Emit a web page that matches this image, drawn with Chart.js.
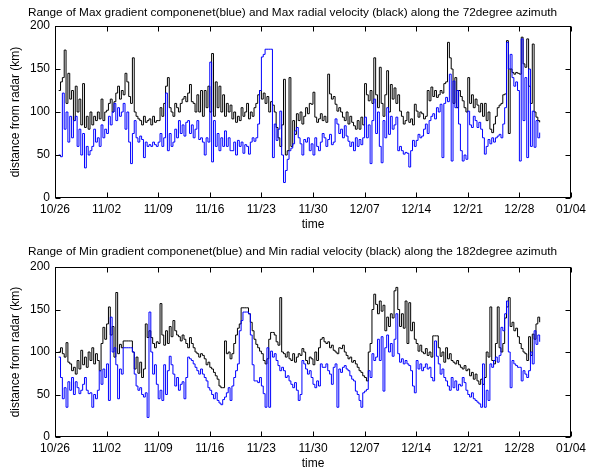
<!DOCTYPE html>
<html>
<head>
<meta charset="utf-8">
<script src="https://cdn.jsdelivr.net/npm/chart.js@4"></script>
<style>
  html, body { margin: 0; padding: 0; background: #fff; }
  #wrap { position: relative; width: 590px; height: 471px; }
  #top, #bot { position: absolute; left: 0; }
  #top { top: 0; }
  #bot { top: 235px; }
</style>
</head>
<body>
<div id="wrap">
  <canvas id="top" width="590" height="235"></canvas>
  <canvas id="bot" width="590" height="236"></canvas>
</div>
<script>
// ---- data (days since 10/26, sampled every 6 hours starting at day 0.5) ----
const startDay = 0.5;
const stepDay = 0.25;
const tickLabels = ['10/26','11/02','11/09','11/16','11/23','11/30','12/07','12/14','12/21','12/28','01/04'];

const maxRadialVel72 = [
  125,135,
  140,172,110,145, 115,125,90,130, 100,115,85,133, 82,95,80,100, 85,95,90,100,
  92,115,90,100, 102,110,115,100, 112,122,130,115, 125,120,145,135, 118,110,163,100,
  95,92,90,85, 95,88,90,92, 85,95,88,90, 90,105,95,110, 130,140,105,100,
  95,110,105,100, 110,115,118,112, 122,132,112,110, 100,120,100,125, 95,125,105,130,
  100,168,95,135, 105,130,100,120, 95,110,100,108, 92,100,88,95, 90,105,95,100,
  110,92,100,95, 105,110,120,125, 115,122,110,118, 100,112,108,100, 82,70,60,85,
  138,50,55,140, 60,90,74,98, 90,100,86,95, 105,98,110,109, 123,94,88,92,
  98,90,95,88, 144,121,115,118, 109,101,105,100, 94,90,100,86, 95,88,84,80,
  90,80,94,85, 133,120,113,125, 110,163,120,105, 152,110,95,120, 148,100,132,115,
  128,110,120,101, 95,86,90,100, 88,92,85,109, 101,94,100,98, 92,95,125,113,
  129,118,125,117, 120,125,122,133, 135,181,163,150, 110,140,105,125, 118,113,105,100,
  140,110,120,105, 115,108,100,110, 95,110,90,100, 80,76,86,95, 105,108,110,120,
  121,183,75,150, 146,144,146,145, 144,187,156,152, 185,130,110,179, 100,94,90,88
];
const maxGradient72 = [
  50,48,
  122,80,100,65, 95,70,90,95, 60,80,50,75, 35,60,50,55, 60,80,65,70,
  60,85,70,80, 75,95,85,100, 110,90,105,95, 100,110,80,100, 65,40,75,90,
  70,65,72,68, 47,65,60,62, 60,65,62,60, 65,75,60,70, 122,55,75,60,
  65,80,70,90, 75,85,72,88, 90,75,85,70, 80,90,68,70, 65,50,70,65,
  158,42,90,60, 75,55,70,60, 78,60,70,55, 55,65,50,67, 60,65,52,62,
  60,51,65,70, 66,70,86,125, 164,167,173,173, 173,173,47,86, 67,80,101,50,
  18,32,45,55, 58,63,78,82, 70,63,50,68, 65,70,55,63, 50,70,60,55,
  65,75,70,60, 68,74,62,65, 92,86,75,80, 70,84,72,66, 60,65,55,70,
  60,68,62,70, 94,70,85,40, 90,115,75,100, 60,41,90,70, 105,74,95,80,
  85,94,55,60, 55,51,53,52, 36,55,67,60, 67,74,70,72, 80,86,75,90,
  95,98,92,105, 100,109,47,110, 117,112,144,43, 136,105,125,86, 55,43,50,45,
  101,85,82,95, 90,82,88,80, 70,51,60,68, 63,70,65,70, 72,74,70,86,
  105,181,150,167, 140,130,135,125, 43,185,90,140, 47,150,60,101, 59,90,70,76
];
const minRadialVel182 = [
  100,105,
  98,94,111,88, 86,78,82,74, 90,80,102,85, 94,82,100,90, 105,86,98,90,
  78,110,129,115, 133,153,120,130, 94,170,98,109, 105,113,113,113, 113,113,100,80,
  94,75,88,70, 80,133,117,125, 117,110,105,112, 110,157,120,108, 125,110,130,118,
  137,125,120,118, 113,120,115,110, 105,117,110,105, 100,98,94,98, 96,92,85,88,
  82,80,76,72, 68,60,58,58, 113,98,100,92, 98,110,120,128, 133,152,152,152,
  152,145,135,125, 115,109,105,101, 98,90,86,92, 115,123,123,120, 112,108,164,100,
  98,94,100,92, 90,98,88,94, 98,96,104,100, 90,86,94,92, 85,100,90,105,
  115,117,112,110, 112,105,108,102, 100,98,105,104, 108,100,96,92, 94,88,90,86,
  82,78,76,72, 70,66,100,110, 150,168,156,145, 160,148,155,125, 141,130,145,140,
  172,176,150,130, 145,128,160,110, 158,125,135,115, 110,101,108,100, 98,104,96,100,
  94,119,119,119, 105,95,100,88, 105,92,98,90, 88,86,90,85, 82,80,84,78,
  80,72,76,68, 74,66,62,68, 62,70,100,94, 153,90,86,110, 153,105,100,110,
  140,153,164,130, 135,125,128,118, 110,104,100,98, 90,118,96,121, 115,133,141,135
];
const minGradient182 = [
  94,70,
  45,58,35,65, 55,70,50,65, 58,51,55,62, 70,55,51,52, 35,50,45,55,
  78,62,80,70, 86,43,141,100, 105,85,45,80, 74,105,105,105, 105,105,100,74,
  60,55,58,50, 47,52,23,147, 100,74,85,62, 45,55,43,85, 50,78,95,85,
  74,60,70,55, 62,65,45,70, 94,92,90,86, 82,78,74,80, 74,70,66,58,
  55,50,45,52, 43,40,38,44, 47,52,58,43, 60,70,78,86, 125,137,147,147,
  147,145,120,85, 66,66,64,70, 60,51,35,105, 35,101,94,98, 90,84,78,82,
  78,70,72,66, 62,58,64,55, 43,50,90,86, 80,74,78,70, 62,58,66,60,
  86,82,82,86, 78,74,62,82, 86,35,80,76, 82,84,80,78, 72,68,66,54,
  50,43,35,52, 54,56,78,70, 98,90,94,115, 90,118,54,105, 120,100,110,95,
  115,145,98,88, 92,86,90,86, 84,78,60,52, 90,80,86,78, 82,86,80,82,
  70,66,113,95, 86,74,80,70, 66,60,55,70, 58,66,55,62, 60,70,64,55,
  50,47,52,45, 43,41,39,35, 86,35,55,43, 86,82,90,94, 88,96,129,125,
  145,160,100,58, 90,86,84,82, 82,66,78,74, 70,78,100,86, 125,109,120,112
];

const titleTop = 'Range of Max gradient componenet(blue) and Max radial velocity (black) along the 72degree azimuth';
const titleBot = 'Range of Min gradient componenet(blue) and Min radial velocity (black) along the 182degree azimuth';

// ---- drawing ----
const FONT = '"Liberation Sans", Arial, Helvetica, sans-serif';

const framePlugin = {
  id: 'matlabFrame',
  afterDatasetsDraw(chart) {
    const { ctx, chartArea: a, scales } = chart;
    const xs = scales.x, ys = scales.y;
    const L = Math.round(a.left) + 0.5, R = Math.round(a.right) - 0.5;
    const T = Math.round(a.top) + 0.5, B = Math.round(a.bottom) - 0.5;
    ctx.save();
    ctx.strokeStyle = '#000';
    ctx.lineWidth = 1;
    ctx.strokeRect(L, T, R - L, B - T);
    ctx.beginPath();
    const tl = 5;
    xs.ticks.forEach(t => {
      const px = Math.round(xs.getPixelForValue(t.value)) + 0.5;
      ctx.moveTo(px, B); ctx.lineTo(px, B - tl);
      ctx.moveTo(px, T); ctx.lineTo(px, T + tl);
    });
    ys.ticks.forEach(t => {
      const py = Math.round(ys.getPixelForValue(t.value)) + 0.5;
      ctx.moveTo(L, py); ctx.lineTo(L + tl, py);
      ctx.moveTo(R, py); ctx.lineTo(R - tl, py);
    });
    ctx.stroke();
    ctx.restore();
  }
};

function makeChart(canvasId, title, blue, black, titlePad, xHeight, xTitlePad) {
  const times = blue.map((_, i) => startDay + i * stepDay);
  return new Chart(document.getElementById(canvasId), {
    type: 'line',
    data: {
      labels: times,
      datasets: [
        { data: blue, borderColor: '#0000ff', borderWidth: 1, pointRadius: 0, stepped: true, fill: false },
        { data: black, borderColor: '#000000', borderWidth: 1, pointRadius: 0, stepped: true, fill: false }
      ]
    },
    options: {
      responsive: false,
      animation: false,
      events: [],
      layout: { padding: { left: 8, right: 13, top: 0, bottom: 0 } },
      plugins: {
        legend: { display: false },
        tooltip: { enabled: false },
        title: {
          display: true,
          text: title,
          color: '#000',
          font: { family: FONT, size: 11.8, weight: 'normal' },
          padding: titlePad
        }
      },
      scales: {
        x: {
          type: 'linear',
          min: 0, max: 70,
          grid: { display: false, drawTicks: false },
          border: { display: false },
          afterFit(s) { s.height = xHeight; },
          ticks: {
            stepSize: 7,
            autoSkip: false,
            maxRotation: 0,
            padding: 4,
            color: '#000',
            font: { family: FONT, size: 12 },
            callback: v => tickLabels[Math.round(v / 7)]
          },
          title: {
            display: true,
            text: 'time',
            color: '#000',
            font: { family: FONT, size: 12 },
            padding: { top: 0, bottom: xTitlePad }
          }
        },
        y: {
          min: 0, max: 200,
          grid: { display: false, drawTicks: false },
          border: { display: false },
          afterFit(s) { s.width = 47; },
          ticks: {
            stepSize: 50,
            padding: 5,
            color: '#000',
            font: { family: FONT, size: 12 }
          },
          title: {
            display: true,
            text: 'distance from radar (km)',
            color: '#000',
            font: { family: FONT, size: 12 },
            padding: { top: 0, bottom: 0 }
          }
        }
      }
    },
    plugins: [framePlugin]
  });
}

makeChart('top', titleTop, maxGradient72, maxRadialVel72, { top: 6, bottom: 5.84 }, 37, 3);
makeChart('bot', titleBot, minGradient182, minRadialVel182, { top: 10, bottom: 7.84 }, 34, 0);
</script>
</body>
</html>
